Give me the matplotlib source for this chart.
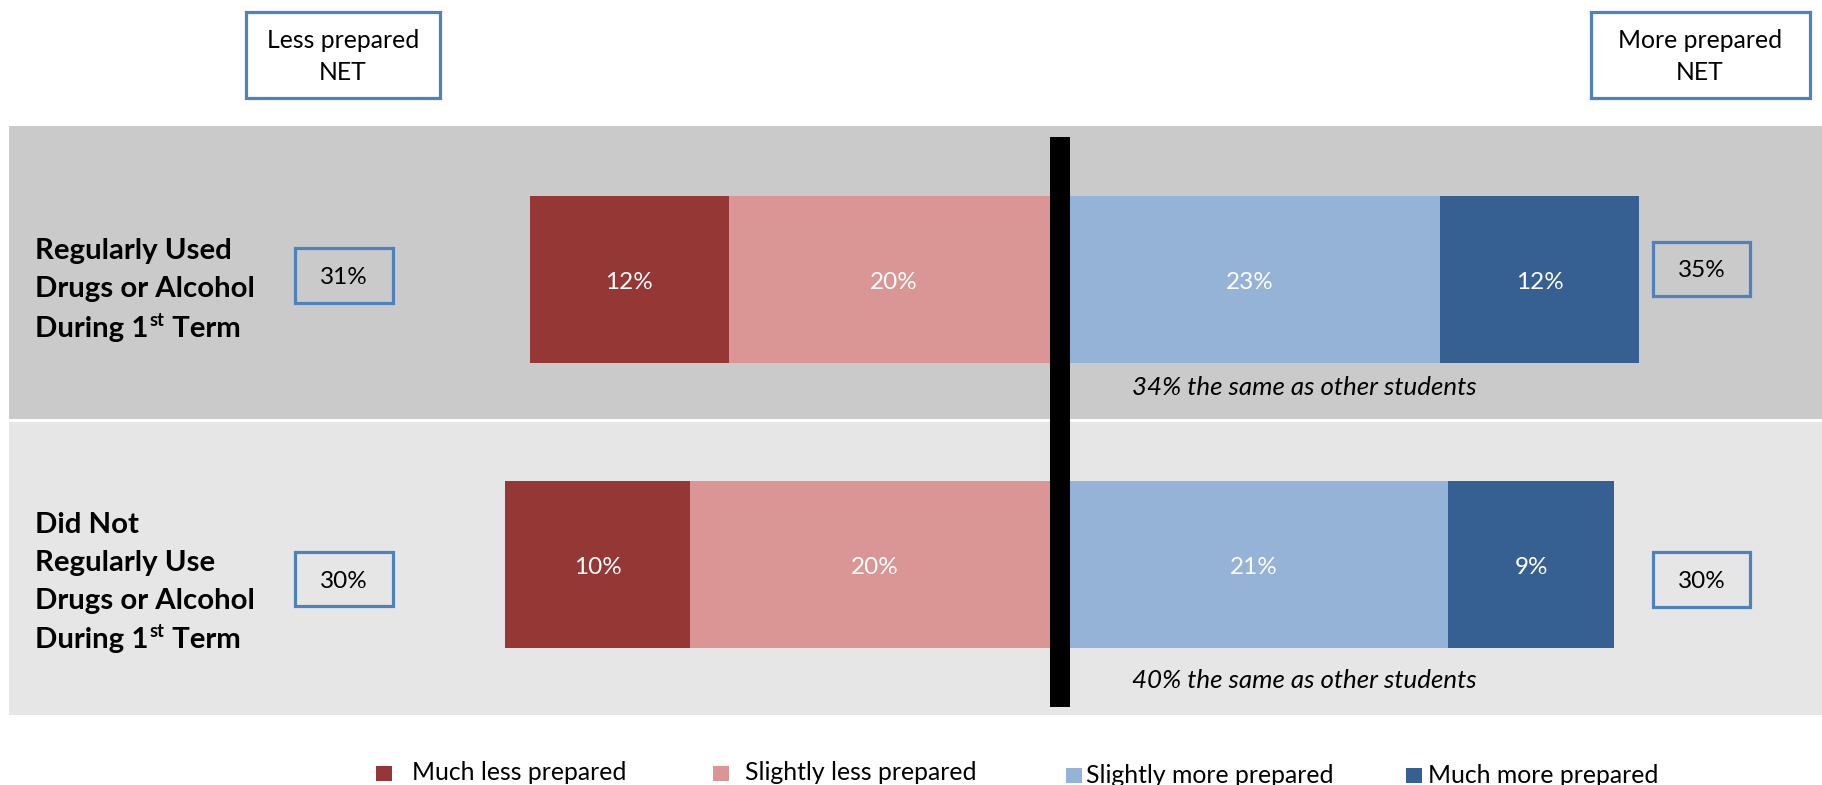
import matplotlib
matplotlib.use("Agg")
import matplotlib.pyplot as plt
from matplotlib.patches import Rectangle

# ---------------- data ----------------
category_lines = [
    ["Regularly Used", "Drugs or Alcohol", "During 1st Term"],
    ["Did Not", "Regularly Use", "Drugs or Alcohol", "During 1st Term"],
]
series_names = ["Much less prepared", "Slightly less prepared",
                "Slightly more prepared", "Much more prepared"]
much_less = [12, 10]
slightly_less = [20, 20]
slightly_more = [23, 21]
much_more = [12, 9]
less_net = [31, 30]
more_net = [35, 30]
same = [34, 40]
colors = ["#953735", "#D99694", "#95B3D7", "#366092"]

# ---------------- layout ----------------
W, H = 1822, 785
FONT = "Lato"
fig = plt.figure(figsize=(W / 100, H / 100), dpi=100)

bg = fig.add_axes([0, 0, 1, 1])
bg.set_xlim(0, W)
bg.set_ylim(H, 0)
bg.axis("off")

center_px = 1059.7
bar_span_px = 1109.0
ax = fig.add_axes([0, 0, 1, 1], facecolor="none")
ax.set_xlim(-center_px / bar_span_px, (W - center_px) / bar_span_px)
ax.set_ylim(H, 0)
ax.axis("off")

band_rows = [(126, 419, "#CACACA"), (422, 715, "#E6E6E6")]
for y0, y1, c in band_rows:
    bg.add_patch(Rectangle((9, y0), W - 9, y1 - y0, color=c, lw=0, zorder=0))

bar_y = [279.5, 564.0]
bar_h = 167
box_edge = "#4F81BD"
reg_fs = 17.8
num_fs = 17.5
ital_fs = 18.6
bold_fs = 21.2

for i in range(2):
    vals = [much_less[i], slightly_less[i], slightly_more[i], much_more[i]]
    total = sum(vals)
    lefts = [-(vals[0] + vals[1]) / total, -vals[1] / total, 0, vals[2] / total]
    for j, v in enumerate(vals):
        w = v / total
        ax.barh(bar_y[i], w, left=lefts[j], height=bar_h, color=colors[j],
                lw=0, zorder=2)
        ax.text(lefts[j] + w / 2, bar_y[i] + 9.5, f"{v}%", color="white",
                ha="center", va="baseline", fontsize=num_fs, family=FONT,
                zorder=3)

ax.plot([0, 0], [137, 707], color="black", lw=14.4, solid_capstyle="butt",
        zorder=4)

# top header boxes
def box(x0, y0, x1, y1, face):
    bg.add_patch(Rectangle((x0, y0), x1 - x0, y1 - y0, facecolor=face,
                           edgecolor=box_edge, lw=2.3, zorder=3))

box(246, 12, 440, 98, "white")
bg.text(343, 48, "Less prepared", ha="center", va="baseline", fontsize=reg_fs, family=FONT, zorder=4)
bg.text(343, 80, "NET", ha="center", va="baseline", fontsize=reg_fs, family=FONT, zorder=4)
box(1591, 12, 1810, 98, "white")
bg.text(1700, 48, "More prepared", ha="center", va="baseline", fontsize=reg_fs, family=FONT, zorder=4)
bg.text(1700, 80, "NET", ha="center", va="baseline", fontsize=reg_fs, family=FONT, zorder=4)

# NET boxes
left_boxes = [(295, 248, 393, 303), (295, 552, 393, 606)]
right_boxes = [(1653, 242, 1750, 296), (1653, 552, 1750, 607)]
left_base = [284, 588]
right_base = [277, 588]
for i in range(2):
    box(*left_boxes[i], "none")
    bg.text((left_boxes[i][0] + left_boxes[i][2]) / 2, left_base[i], f"{less_net[i]}%",
            ha="center", va="baseline", fontsize=num_fs, family=FONT, zorder=4)
    box(*right_boxes[i], "none")
    bg.text((right_boxes[i][0] + right_boxes[i][2]) / 2, right_base[i], f"{more_net[i]}%",
            ha="center", va="baseline", fontsize=num_fs, family=FONT, zorder=4)

# "same" notes
same_base = [395, 688]
for i in range(2):
    bg.text(1132, same_base[i], f"{same[i]}% the same as other students",
            ha="left", va="baseline", fontsize=ital_fs, style="italic",
            family=FONT, zorder=4)

# category labels
label_bases = [[259, 297, 337], [533, 571, 609, 648]]
for i, lines in enumerate(category_lines):
    for line, yb in zip(lines, label_bases[i]):
        if "1st" in line:
            pre, post = line.split("1st")
            t1 = bg.text(35, yb, pre + "1", ha="left", va="baseline",
                         fontsize=bold_fs, weight="bold", family=FONT, zorder=4)
            t2 = bg.annotate("st", xy=(1, yb), xycoords=(t1, "data"),
                             xytext=(1, 8), textcoords="offset points",
                             ha="left", va="baseline", fontsize=bold_fs * 0.62,
                             weight="bold", family=FONT, zorder=4)
            bg.annotate(post, xy=(1, yb), xycoords=(t2, "data"),
                        ha="left", va="baseline", fontsize=bold_fs,
                        weight="bold", family=FONT, zorder=4)
        else:
            bg.text(35, yb, line, ha="left", va="baseline", fontsize=bold_fs,
                    weight="bold", family=FONT, zorder=4)

# legend
leg_marker_x = [376, 713, 1066, 1406]
leg_marker_y = [766, 766, 768, 768]
leg_text_x = [412, 745, 1086, 1428]
leg_base = [780, 780, 783, 783]
for j, name in enumerate(series_names):
    bg.add_patch(Rectangle((leg_marker_x[j], leg_marker_y[j]), 16, 15,
                           color=colors[j], lw=0, zorder=3))
    bg.text(leg_text_x[j], leg_base[j], name, ha="left", va="baseline",
            fontsize=reg_fs, family=FONT, zorder=4)

fig.savefig("out.png", dpi=100)
